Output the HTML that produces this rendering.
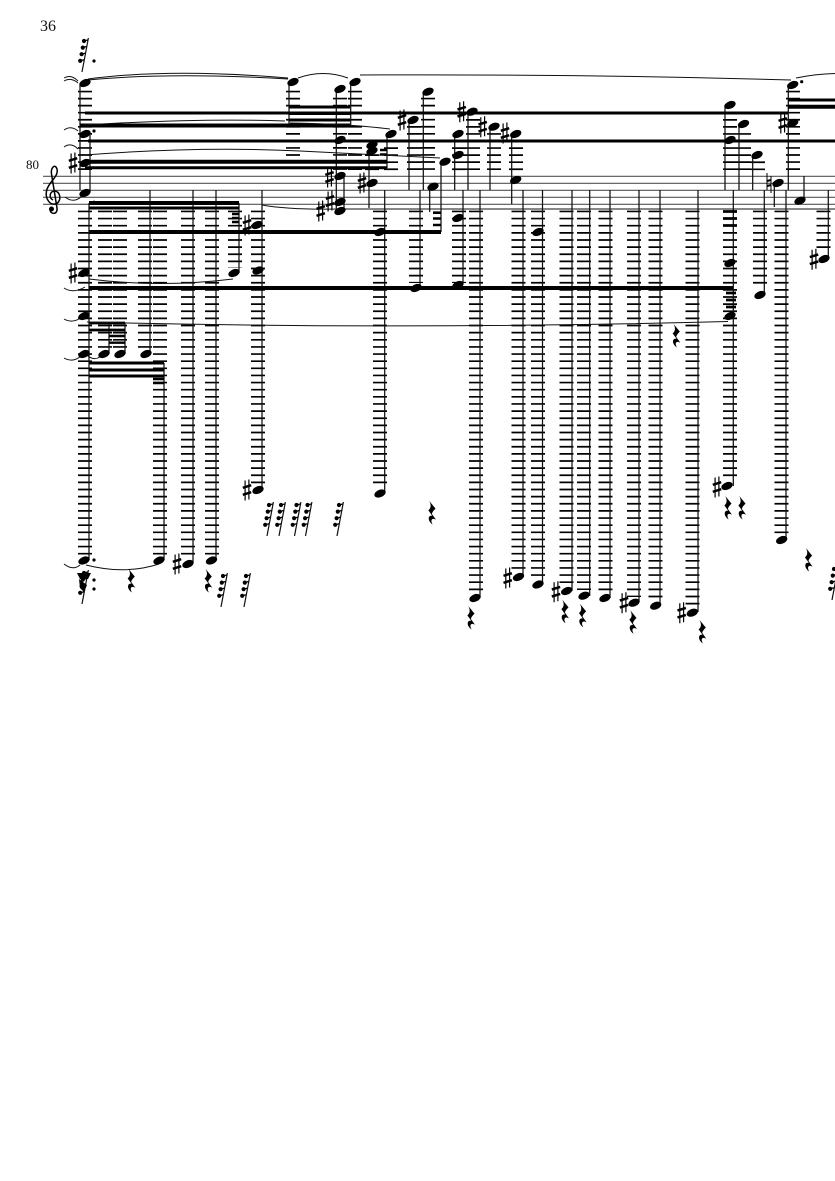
<!DOCTYPE html>
<html><head><meta charset="utf-8"><title>Score page 36</title>
<style>
html,body{margin:0;padding:0;background:#fff}
body{width:835px;height:1181px;overflow:hidden;position:relative}
svg{position:absolute;left:0;top:0}
text{font-family:"Liberation Serif",serif;fill:#111}
.st{stroke:#555;stroke-width:1.1;fill:none}
.u,.d{fill:none;stroke:#000;stroke-width:14}
.u{stroke-dasharray:1.7 5.35}
.d{stroke-dasharray:1.7 5.43}
.v{stroke:#111;stroke-width:1.25;fill:none}
.b{stroke:#000;fill:none}
.t{stroke:#111;stroke-width:1;fill:none}
</style></head><body>
<svg width="835" height="1181" viewBox="0 0 835 1181" xmlns="http://www.w3.org/2000/svg">
<defs>
<ellipse id="n" rx="5.9" ry="3.7" transform="rotate(-22)" fill="#000"/>
<g id="s" stroke="#000" fill="none"><path d="M-1.9 -9.5V10.5M1.9 -10.5V9.5" stroke-width="1.2"/><path d="M-4.2 -2.2L4.2 -4.8M-4.2 4.8L4.2 2.2" stroke-width="2.5"/></g>
<g id="r"><path transform="scale(1.2)" d="M-2 -10L3.2 -3.6Q0.4 -1 0.2 0.8L3.6 5.6C0.6 3.8 -1.6 5.4 0.8 9.6C-3.4 6.8 -3.6 1.8 0.4 2.2L-2.8 -2.2Q0.6 -5 -2 -10Z" fill="#000"/></g>
<g id="f"><path d="M-3 17L3.4 -17" stroke="#111" stroke-width="1.2" fill="none"/><path d="M-1.2 -14L2.8 -15M-2.4 -7.4L1.6 -8.5M-3.6 -0.8L0.4 -1.9M-5 5.8L-0.8 4.7" stroke="#000" stroke-width="1.3" fill="none"/><circle cx="-1" cy="-14" r="2.1"/><circle cx="-2.2" cy="-7.4" r="2.1"/><circle cx="-3.4" cy="-0.8" r="2.1"/><circle cx="-4.8" cy="5.8" r="2.1"/></g>
</defs>

<text x="40" y="31" font-size="16">36</text>
<text x="26" y="169" font-size="13">80</text>

<!-- staff -->
<path class="st" d="M43 176.3H835M43 183.3H835M43 190.3H835M43 197.3H835M43 204.3H835"/>
<!-- clef -->
<path d="M50 209C50 215 58 215 57 208L51.5 174C50.5 168 55 163 57 169C59 177 48 182 46.5 191C45 199 50 205 55 204C61.5 203 61.5 192 55 191C49.5 191 48.5 198 53 200" fill="none" stroke="#000" stroke-width="1.5"/>
<circle cx="51.5" cy="209" r="2.5"/>

<!-- ledger lines above -->
<path class="u" d="M85 90.7V170.2M293 90.7V156M340 97.7V170.2M355 90.7V170.2M372 154.3V170.2M391 140.2V170.2M414 126V170.2M428 97.7V170.2M459 140.2V170.2M473 119V170.2M494 133.1V170.2M516 140.2V170.2M730 119V170.2M744 133.1V170.2M758 161.4V170.2M793 90.7V170.2"/>
<!-- ledger lines below -->
<path class="d" d="M85 210.6V555M105 210.6V348M120 210.6V348M145 210.6V348M160 210.6V555M188 210.6V555M212 210.6V555M235 210.6V268M258 210.6V484M380 210.6V487M416 210.6V283M459 210.6V283M476 210.6V591M518.5 210.6V571M538 210.6V579M566.5 210.6V586M584 210.6V590M605.5 210.6V592M634 210.6V597M655.5 210.6V599M692.5 210.6V606M730 210.6V481M760 210.6V289M781.5 210.6V534M823.5 210.6V253"/>

<!-- stems -->
<path class="v" d="M80 85V190M90 135V192M150 190V354M193 190V563M216 190V560M262 190V490M89 203V560M109 323V354M125 323V354M164 363V560M239 203V273
M289 85V125M336.3 89V212M350.7 83V126M344 176V210M369 147V208M387 134V168M409 120V190M423.3 92V190M454.7 134V190M468 112V190M490 127V190M511.7 134V204M429.7 187V212M441 163V232
M384.7 190V493M420 190V287M463 190V283M480 190V598M523 190V577M542.5 190V585M572 190V591M589.7 190V596M610 190V598M639 190V602M660 190V605M698 190V612
M725 105V190M733.3 190V486M739 124V190M752.7 155V190M764.3 190V293M774.3 185V207M786 190V540M788.3 85V190M804 176V200M828.3 190V258"/>

<!-- beams -->
<path class="b" stroke-width="3" d="M85 113H788M88 141H835M788 100H835"/>
<path class="b" stroke-width="4" d="M80 125.5H350M85 161.7H387M788 106.7H835"/>
<path class="b" stroke-width="3" d="M85 167.8H387M289 107H350M289 120H350"/>
<path class="b" stroke-width="4" d="M89 232H441M89 288H733"/>
<path class="b" stroke-width="4" d="M89 203H239"/>
<path class="b" stroke-width="3" d="M89 208H239M289 113.5H350"/>
<path class="b" stroke-width="2.6" d="M232 214H239M232 218H239M232 222H239M433 212.7H441M433 218.5H441M433 225H441M380 150H387M380 154.5H387"/>
<path class="b" stroke-width="2.8" d="M89 323H125M89 330H125"/>
<path class="b" stroke-width="2.4" d="M109 336H125M109 342.7H125"/>
<path class="b" stroke-width="3" d="M89 363H164M89 370H164M89 376H164"/>
<path class="b" stroke-width="2.6" d="M153 379H164M153 383H164"/>
<path class="b" stroke-width="2.8" d="M723 211.5H737M723 218.5H737M723 225.5H737M726 293H736M726 300H736M726 307H736"/>

<!-- ties and slurs -->
<path class="t" stroke-width="1.4" d="M88 79Q170 68 288 78M88 80Q170 72 288 79M298 78Q323 69 348 78M360 75Q580 74 791 80M796 78Q815 74 835 73.5"/>
<path class="t" d="M85 155Q200 146 300 151T440 158M290 123Q350 124 390 129M262 205Q290 210 340 209H835M84 125Q200 118 285 121"/>
<path class="t" d="M64 78Q71 74 78 81M64 81Q71 77 78 83M64 130Q71 125 78 131M64 147Q71 142 78 149M65 197Q74 204 82 196M64 288Q73 294 85 287M64 319Q73 324 82 317M64 358Q73 363 81 356M87 355Q93 361 100 357M64 564Q73 571 80 565"/>
<path class="t" stroke-width="1.2" d="M89 279Q160 288 233 279M87 322Q400 330 728 321.5M86 565Q125 575 159 564"/>

<!-- note heads -->
<g>
<use href="#n" x="85" y="83"/><use href="#n" x="85" y="134"/><use href="#n" x="85" y="163"/><use href="#n" x="85" y="193"/>
<use href="#n" x="84" y="273"/><use href="#n" x="84" y="316"/><use href="#n" x="84" y="354"/><use href="#n" x="104" y="354"/><use href="#n" x="120" y="354"/><use href="#n" x="146" y="354"/><use href="#n" x="84" y="560.5"/><use href="#n" x="159" y="560.5"/><use href="#n" x="188" y="564"/><use href="#n" x="211.5" y="560.5"/>
<use href="#n" x="234" y="273"/><use href="#n" x="258" y="270.5"/><use href="#n" x="257" y="225"/><use href="#n" x="258" y="490"/>
<use href="#n" x="293" y="82"/><use href="#n" x="340" y="89"/><use href="#n" x="355" y="82"/><use href="#n" x="340" y="140"/><use href="#n" x="340" y="176"/><use href="#n" x="340" y="202"/><use href="#n" x="340" y="211"/>
<use href="#n" x="372" y="145"/><use href="#n" x="372" y="151"/><use href="#n" x="372" y="183"/><use href="#n" x="391" y="134"/><use href="#n" x="413" y="120"/><use href="#n" x="428" y="91.7"/><use href="#n" x="445" y="161.7"/><use href="#n" x="433" y="186.7"/>
<use href="#n" x="458" y="134"/><use href="#n" x="458" y="155"/><use href="#n" x="472" y="111.7"/><use href="#n" x="494" y="126.7"/><use href="#n" x="515.7" y="134"/><use href="#n" x="515.7" y="180"/>
<use href="#n" x="380" y="232"/><use href="#n" x="380" y="493.5"/><use href="#n" x="416" y="288"/><use href="#n" x="458" y="218"/><use href="#n" x="458" y="285"/><use href="#n" x="475" y="598"/><use href="#n" x="518.5" y="577"/><use href="#n" x="538" y="232"/><use href="#n" x="538" y="584.5"/><use href="#n" x="566.7" y="591"/><use href="#n" x="584" y="595.7"/><use href="#n" x="605" y="598"/><use href="#n" x="634" y="602.7"/><use href="#n" x="655.7" y="605.7"/><use href="#n" x="692.3" y="612.7"/>
<use href="#n" x="730" y="105"/><use href="#n" x="730" y="140"/><use href="#n" x="743.5" y="124"/><use href="#n" x="757" y="155"/><use href="#n" x="730" y="263"/><use href="#n" x="730" y="316"/><use href="#n" x="727" y="486"/><use href="#n" x="760" y="295"/><use href="#n" x="778" y="183"/><use href="#n" x="781.7" y="540"/><use href="#n" x="792.7" y="85"/><use href="#n" x="792.7" y="123"/><use href="#n" x="800" y="200.7"/><use href="#n" x="824" y="259"/>
</g>

<!-- sharps -->
<g>
<use href="#s" x="73" y="163"/><use href="#s" x="73" y="273"/><use href="#s" x="177" y="564"/><use href="#s" x="247" y="225"/><use href="#s" x="247" y="490"/>
<use href="#s" x="329.5" y="177"/><use href="#s" x="330" y="201"/><use href="#s" x="320.7" y="211"/><use href="#s" x="362" y="183"/><use href="#s" x="402" y="120"/><use href="#s" x="461.7" y="111.7"/><use href="#s" x="482.7" y="126.7"/><use href="#s" x="505" y="133"/>
<use href="#s" x="507.7" y="578"/><use href="#s" x="556" y="591.7"/><use href="#s" x="624" y="602.7"/><use href="#s" x="681.7" y="612.7"/><use href="#s" x="717" y="487"/><use href="#s" x="782.7" y="123"/><use href="#s" x="814" y="259.3"/>
</g>
<!-- natural -->
<path d="M767 173V190M771 176V193" stroke="#000" stroke-width="1" fill="none"/><path d="M767 181L771 180M767 186L771 185" stroke="#000" stroke-width="2" fill="none"/>

<!-- dots -->
<circle cx="94" cy="61" r="1.6"/><circle cx="94" cy="131" r="1.6"/><circle cx="94" cy="202" r="1.4"/><circle cx="94" cy="560" r="1.6"/><circle cx="94" cy="580" r="1.6"/><circle cx="94" cy="589" r="1.6"/><circle cx="801.7" cy="81.7" r="1.6"/>

<!-- rests -->
<g>
<use href="#r" x="131" y="581"/><use href="#r" x="208" y="581"/><use href="#r" x="431.7" y="513"/><use href="#r" x="470.7" y="618"/><use href="#r" x="564.7" y="611.7"/><use href="#r" x="582.3" y="615.7"/><use href="#r" x="632.7" y="622.3"/><use href="#r" x="702" y="632"/><use href="#r" x="676" y="336"/><use href="#r" x="727.7" y="508"/><use href="#r" x="741.7" y="508"/><use href="#r" x="808.3" y="560"/>
</g>
<g>
<use href="#f" x="85" y="55"/><use href="#f" x="85" y="587"/><use href="#f" x="270" y="519"/><use href="#f" x="282" y="519"/><use href="#f" x="297.5" y="519"/><use href="#f" x="308.5" y="519"/><use href="#f" x="340" y="519"/><use href="#f" x="224" y="590"/><use href="#f" x="247" y="590"/><use href="#f" x="835" y="583"/>
</g>
<path d="M77 573H91L88 579H80Z M79 579L87 585L84 592L80 588Z" fill="#000"/>
</svg>
</body></html>
